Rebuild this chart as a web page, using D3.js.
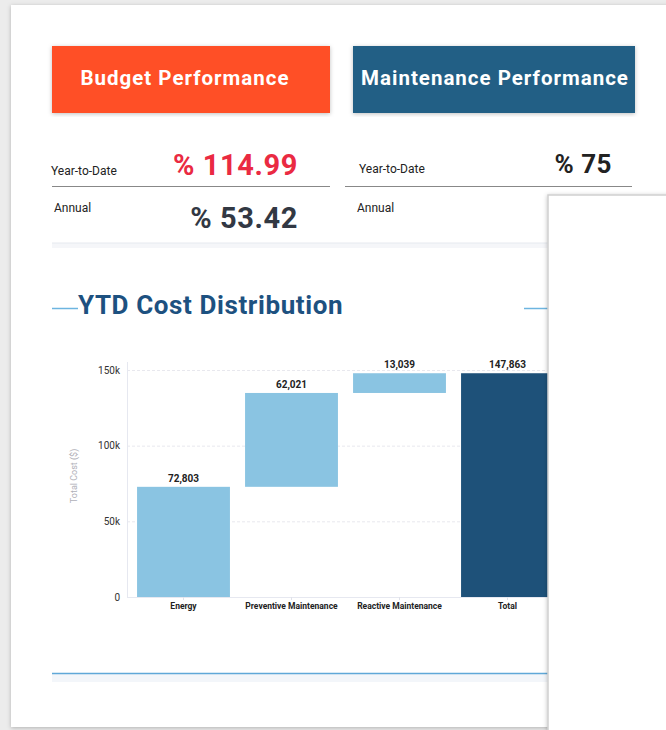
<!DOCTYPE html>
<html>
<head>
<meta charset="utf-8">
<script src="https://cdn.jsdelivr.net/npm/d3@7"></script>
<style>
  html, body { margin: 0; padding: 0; background: #ececec; }
  svg { display: block; font-family: Roboto, "Noto Sans", sans-serif; }
</style>
</head>
<body>
<div id="page"></div>
<script>
// data
const categories = ["Energy", "Preventive Maintenance", "Reactive Maintenance", "Total"];
const costValues = [72803, 62021, 13039];
const totalCost = 147863;
const yTicks = [0, 50000, 100000, 150000];
const budgetKpi = { ytd: "% 114.99", annual: "% 53.42" };
const maintKpi = { ytd: "% 75", annual: "" };

const width = 666, height = 730;

const svg = d3.select("#page")
    .append("svg")
    .attr("width", width)
    .attr("height", height);

const defs = svg.append("defs");
const blur = defs.append("filter").attr("id", "shadow")
    .attr("x", "-5%").attr("y", "-5%").attr("width", "110%").attr("height", "110%");
blur.append("feDropShadow").attr("dx", 0).attr("dy", 1).attr("stdDeviation", 2)
    .attr("flood-color", "#000").attr("flood-opacity", 0.25);

// main card
svg.append("rect")
    .attr("x", 11).attr("y", 5).attr("width", 700).attr("height", 722)
    .attr("fill", "#fff").attr("filter", "url(#shadow)");

// header boxes
const headers = [
    { x: 52, w: 278, fill: "#ff5028", text: "Budget Performance", tx: 185 },
    { x: 353, w: 282, fill: "#225e85", text: "Maintenance Performance", tx: 495 }
];
svg.selectAll("rect.head")
    .data(headers)
    .enter()
    .append("rect")
    .attr("class", "head")
    .attr("x", d => d.x).attr("y", 46)
    .attr("width", d => d.w).attr("height", 67)
    .attr("fill", d => d.fill)
    .attr("filter", "url(#shadow)");
svg.selectAll("text.head")
    .data(headers)
    .enter()
    .append("text")
    .attr("x", d => d.tx).attr("y", 85)
    .attr("text-anchor", "middle")
    .attr("fill", "#fff")
    .attr("font-size", 20.5)
    .attr("font-weight", 700)
    .attr("letter-spacing", 1)
    .text(d => d.text);

// kpi rows
const kpi = svg.append("g");
kpi.append("text").attr("x", 51).attr("y", 175).attr("font-size", 12).attr("fill", "#222").text("Year-to-Date");
kpi.append("text").attr("x", 298).attr("y", 175).attr("text-anchor", "end")
    .attr("font-size", 29).attr("font-weight", 700).attr("letter-spacing", 0.6)
    .attr("fill", "#ea2a42").text(budgetKpi.ytd);
kpi.append("line").attr("x1", 52).attr("x2", 330).attr("y1", 186.5).attr("y2", 186.5)
    .attr("stroke", "#888").attr("stroke-width", 1.2);
kpi.append("text").attr("x", 54).attr("y", 212).attr("font-size", 12).attr("fill", "#222").text("Annual");
kpi.append("text").attr("x", 298).attr("y", 228).attr("text-anchor", "end")
    .attr("font-size", 29).attr("font-weight", 700).attr("letter-spacing", 0.6)
    .attr("fill", "#323843").text(budgetKpi.annual);

kpi.append("text").attr("x", 359).attr("y", 173).attr("font-size", 12).attr("fill", "#222").text("Year-to-Date");
kpi.append("text").attr("x", 612).attr("y", 173).attr("text-anchor", "end")
    .attr("font-size", 26).attr("font-weight", 700).attr("letter-spacing", 0.5)
    .attr("fill", "#222").text(maintKpi.ytd);
kpi.append("line").attr("x1", 345).attr("x2", 632).attr("y1", 186.5).attr("y2", 186.5)
    .attr("stroke", "#888").attr("stroke-width", 1.2);
kpi.append("text").attr("x", 357).attr("y", 212).attr("font-size", 12).attr("fill", "#222").text("Annual");

// separator with soft shadow
kpi.append("rect").attr("x", 52).attr("y", 243).attr("width", 500).attr("height", 5)
    .attr("fill", "#f5f6f9");
kpi.append("line").attr("x1", 52).attr("x2", 552).attr("y1", 243).attr("y2", 243)
    .attr("stroke", "#e6e9ef").attr("stroke-width", 1);

// section title
svg.append("line").attr("x1", 52).attr("x2", 78).attr("y1", 308.5).attr("y2", 308.5)
    .attr("stroke", "#6db5e0").attr("stroke-width", 1.5);
svg.append("line").attr("x1", 524).attr("x2", 552).attr("y1", 308.5).attr("y2", 308.5)
    .attr("stroke", "#6db5e0").attr("stroke-width", 1.5);
svg.append("text").attr("x", 78).attr("y", 314)
    .attr("font-size", 26).attr("font-weight", 700).attr("letter-spacing", 0.6)
    .attr("fill", "#1d5180")
    .text("YTD Cost Distribution");

// waterfall chart
let running = 0;
const bars = categories.map((c, i) => {
    if (i < costValues.length) {
        const b = { name: c, start: running, end: running + costValues[i], value: costValues[i], total: false };
        running += costValues[i];
        return b;
    }
    return { name: c, start: 0, end: totalCost, value: totalCost, total: true };
});

const x = d3.scaleBand()
    .domain(categories)
    .range([129.5, 561.5])
    .paddingInner(0.14)
    .paddingOuter(0.07);

const y = d3.scaleLinear()
    .domain([0, 150000])
    .range([597, 370]);

const chart = svg.append("g");

// grid
chart.append("g")
    .selectAll("line")
    .data(yTicks.slice(1))
    .enter()
    .append("line")
    .attr("x1", 127).attr("x2", 560)
    .attr("y1", d => y(d) + 0.5).attr("y2", d => y(d) + 0.5)
    .attr("stroke", "#e8e8ee")
    .attr("stroke-dasharray", "3,2");

// y axis
const yAxis = chart.append("g")
    .attr("transform", "translate(127,0)")
    .call(d3.axisLeft(y).tickValues(yTicks).tickFormat(d3.format("~s")).tickSize(0).tickPadding(7));
yAxis.select(".domain").attr("stroke", "#e6e8f0").attr("d", "M0.5," + (y(150000) - 8) + "V" + y(0));
yAxis.selectAll("text").attr("font-size", 10).attr("fill", "#333").attr("font-family", "Roboto, sans-serif");

// x axis
const xAxis = chart.append("g")
    .attr("transform", "translate(0," + y(0) + ")")
    .call(d3.axisBottom(x).tickSize(3).tickPadding(3));
xAxis.select(".domain").attr("stroke", "#e6e8f0").attr("d", "M127,0.5H560");
xAxis.selectAll(".tick line").attr("stroke", "#e0e2ea");
xAxis.selectAll("text").attr("font-size", 8.5).attr("font-weight", 700).attr("fill", "#222")
    .attr("font-family", "Roboto, sans-serif");

chart.append("text")
    .attr("transform", "translate(77," + y(80000) + ") rotate(-90)")
    .attr("text-anchor", "middle")
    .attr("font-size", 9).attr("fill", "#b0b0b8")
    .text("Total Cost ($)");

chart.append("g")
    .selectAll("rect")
    .data(bars)
    .enter()
    .append("rect")
    .attr("x", d => x(d.name))
    .attr("width", x.bandwidth())
    .attr("y", d => y(d.end))
    .attr("height", d => y(d.start) - y(d.end))
    .attr("fill", d => d.total ? "#1e5179" : "#8ac4e2");

chart.append("g")
    .selectAll("text")
    .data(bars)
    .enter()
    .append("text")
    .attr("x", d => x(d.name) + x.bandwidth() / 2)
    .attr("y", d => y(d.end) - 5)
    .attr("text-anchor", "middle")
    .attr("font-size", 10).attr("font-weight", 700).attr("fill", "#222")
    .text(d => d3.format(",")(d.value));

// bottom rule
svg.append("rect").attr("x", 52).attr("y", 674).attr("width", 500).attr("height", 8)
    .attr("fill", "#f3f6fa");
svg.append("line").attr("x1", 52).attr("x2", 552).attr("y1", 673.5).attr("y2", 673.5)
    .attr("stroke", "#5fa8d8").attr("stroke-width", 1.5);

// overlapping panel
svg.append("rect")
    .attr("x", 548).attr("y", 195).attr("width", 140).attr("height", 560)
    .attr("fill", "#fff").attr("stroke", "#cfcfcf").attr("stroke-width", 1.5)
    .attr("filter", "url(#shadow)");
</script>
</body>
</html>
